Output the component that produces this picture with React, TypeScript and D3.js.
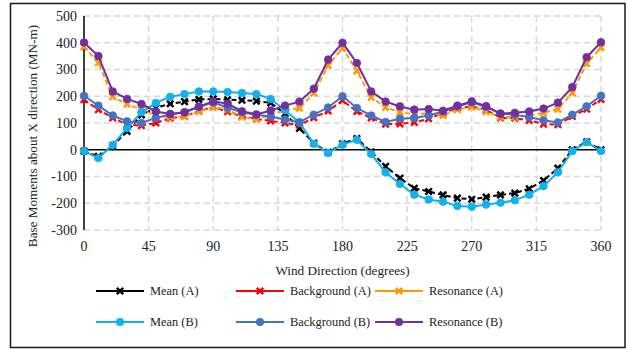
import React from "react";
import * as d3 from "d3";

// Wind directions sampled every 10 degrees
const directions: number[] = d3.range(0, 361, 10);

const meanA: number[] = [-5, -25, 15, 69, 130, 157, 172, 180, 188, 190, 187, 185, 182, 175, 135, 80, 25, -10, 22, 42, -8, -62, -106, -144, -156, -169, -181, -185, -177, -169, -162, -146, -115, -69, 0, 30, 0];
const backgroundA: number[] = [187, 150, 119, 94, 90, 100, 118, 125, 145, 160, 142, 125, 115, 108, 100, 92, 120, 145, 184, 143, 119, 96, 97, 102, 116, 137, 156, 162, 150, 119, 118, 110, 96, 94, 125, 152, 188];
const resonanceA: number[] = [385, 325, 198, 170, 150, 128, 122, 125, 143, 160, 150, 122, 115, 128, 148, 155, 212, 315, 380, 295, 196, 158, 140, 133, 136, 128, 150, 160, 142, 122, 122, 128, 138, 152, 212, 322, 382];
const meanB: number[] = [-5, -31, 18, 81, 140, 175, 198, 208, 218, 218, 216, 212, 208, 190, 148, 102, 22, -12, 19, 37, -16, -84, -128, -168, -186, -194, -210, -213, -205, -198, -189, -168, -136, -84, -5, 28, -5];
const backgroundB: number[] = [202, 165, 128, 106, 100, 119, 132, 140, 160, 177, 157, 140, 131, 124, 113, 103, 131, 158, 200, 156, 128, 104, 116, 119, 128, 143, 162, 177, 160, 135, 131, 122, 110, 102, 131, 162, 202];
const resonanceB: number[] = [401, 350, 218, 190, 171, 143, 134, 140, 161, 181, 172, 144, 132, 147, 165, 180, 228, 337, 400, 324, 218, 180, 162, 150, 152, 146, 165, 181, 163, 135, 138, 143, 154, 176, 234, 346, 402];

const xTicks: number[] = [0, 45, 90, 135, 180, 225, 270, 315, 360];
const yTicks: number[] = [-300, -200, -100, 0, 100, 200, 300, 400, 500];

const xTitle = "Wind Direction (degrees)";
const yTitle = "Base Moments about X direction (MN-m)";

type Series = {
  name: string;
  values: number[];
  color: string;
  marker: "x" | "circle";
  dashed: boolean;
};

const series: Series[] = [
  { name: "Mean (A)", values: meanA, color: "#000000", marker: "x", dashed: true },
  { name: "Background (A)", values: backgroundA, color: "#FF0000", marker: "x", dashed: true },
  { name: "Resonance (A)", values: resonanceA, color: "#FF9900", marker: "x", dashed: true },
  { name: "Mean (B)", values: meanB, color: "#12B0EC", marker: "circle", dashed: false },
  { name: "Background (B)", values: backgroundB, color: "#4472C4", marker: "circle", dashed: false },
  { name: "Resonance (B)", values: resonanceB, color: "#7030A0", marker: "circle", dashed: false },
];

const W = 627;
const H = 349;
const plot = { left: 84, right: 601, top: 16, bottom: 230 };
const serif = '"Liberation Serif", "Times New Roman", serif';
const tickStyle: React.CSSProperties = { fontFamily: serif, fontSize: "14px" };
const titleStyle: React.CSSProperties = { fontFamily: serif, fontSize: "13.2px" };
const legendStyle: React.CSSProperties = { fontFamily: serif, fontSize: "12.4px" };

function Marker({ kind, color, x, y }: { kind: "x" | "circle"; color: string; x: number; y: number }) {
  if (kind === "circle") {
    return <circle cx={x} cy={y} r={3.8} fill={color} stroke={color} strokeWidth={0.8} />;
  }
  const s = 3.2;
  return (
    <path
      d={`M${x - s},${y - s}L${x + s},${y + s}M${x + s},${y - s}L${x - s},${y + s}`}
      stroke={color}
      strokeWidth={2.5}
      fill="none"
    />
  );
}

export default function App() {
  const x = d3.scaleLinear().domain([0, 360]).range([plot.left, plot.right]);
  const y = d3.scaleLinear().domain([-300, 500]).range([plot.bottom, plot.top]);

  const line = d3
    .line<[number, number]>()
    .x((d) => x(d[0]))
    .y((d) => y(d[1]));

  const legendCols = [96, 236, 375];
  const legendRows = [291, 322];

  return (
    <svg width={W} height={H} style={{ position: "absolute", left: 0, top: 0, background: "#fff" }}>
      <rect x={0} y={0} width={W} height={H} fill="#fff" />
      <rect x={10.5} y={3.5} width={614.5} height={344} fill="none" stroke="#1a1a1a" strokeWidth={1.5} />

      {/* gridlines */}
      {yTicks
        .filter((t) => t !== 0)
        .map((t) => (
          <line
            key={`gy${t}`}
            x1={plot.left}
            x2={plot.right}
            y1={y(t)}
            y2={y(t)}
            stroke="#d9d9d9"
            strokeWidth={1.5}
            strokeDasharray="6 4"
          />
        ))}
      {xTicks
        .filter((t) => t !== 0)
        .map((t) => (
          <line
            key={`gx${t}`}
            x1={x(t)}
            x2={x(t)}
            y1={plot.top}
            y2={plot.bottom}
            stroke="#d9d9d9"
            strokeWidth={1.5}
            strokeDasharray="6 4"
          />
        ))}

      {/* axes */}
      <line x1={plot.left} x2={plot.left} y1={plot.top} y2={plot.bottom} stroke="#000" strokeWidth={1.5} />
      <line x1={plot.left} x2={plot.right} y1={y(0)} y2={y(0)} stroke="#000" strokeWidth={1.5} />

      {/* tick labels */}
      {yTicks.map((t) => (
        <text key={`ly${t}`} x={77} y={y(t)} dy="0.35em" textAnchor="end" fill="#222" style={tickStyle}>
          {t}
        </text>
      ))}
      {xTicks.map((t) => (
        <text key={`lx${t}`} x={x(t)} y={251} textAnchor="middle" fill="#222" style={tickStyle}>
          {t}
        </text>
      ))}

      <text x={(plot.left + plot.right) / 2} y={275} textAnchor="middle" fill="#222" style={titleStyle}>
        {xTitle}
      </text>
      <text transform={`translate(37,136) rotate(-90)`} textAnchor="middle" fill="#222" style={titleStyle}>
        {yTitle}
      </text>

      {/* series */}
      {series.map((s) => {
        const pts: [number, number][] = directions.map((d, i) => [d, s.values[i]]);
        return (
          <g key={s.name}>
            <path
              d={line(pts) ?? ""}
              fill="none"
              stroke={s.color}
              strokeWidth={2}
              strokeDasharray={s.dashed ? "5 3" : undefined}
            />
            {pts.map((p, i) => (
              <Marker key={i} kind={s.marker} color={s.color} x={x(p[0])} y={y(p[1])} />
            ))}
          </g>
        );
      })}

      {/* legend */}
      {series.map((s, i) => {
        const lx = legendCols[i % 3];
        const ly = legendRows[Math.floor(i / 3)];
        return (
          <g key={`leg${s.name}`}>
            <line x1={lx} x2={lx + 48} y1={ly} y2={ly} stroke={s.color} strokeWidth={2} />
            <Marker kind={s.marker} color={s.color} x={lx + 24} y={ly} />
            <text x={lx + 54} y={ly} dy="0.35em" fill="#222" style={legendStyle}>
              {s.name}
            </text>
          </g>
        );
      })}
    </svg>
  );
}
